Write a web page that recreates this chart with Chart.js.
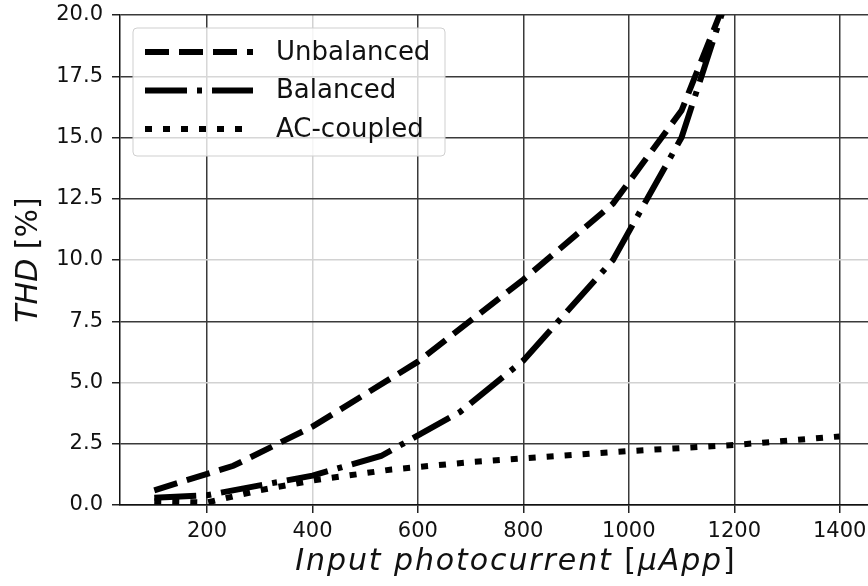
<!DOCTYPE html>
<html>
<head>
<meta charset="utf-8">
<script src="https://cdn.jsdelivr.net/npm/chart.js@4.4.0/dist/chart.umd.min.js"></script>
<style>
  html, body { margin: 0; padding: 0; background: #fff; overflow: hidden; }
  #wrap { width: 868px; height: 586px; overflow: hidden; }
  #thd { display: block; }
</style>
</head>
<body>
<div id="wrap"><canvas id="thd" width="900" height="586"></canvas></div>
<script>
// THD vs input photocurrent for the three front-end variants
const unbalancedX = [100, 250, 400, 600, 800, 970, 1100, 1200];
const unbalancedY = [0.6, 1.6, 3.2, 5.85, 9.2, 12.3, 16.1, 21.5];

const balancedX = [100, 200, 300, 400, 530, 680, 800, 970, 1100, 1200];
const balancedY = [0.3, 0.4, 0.8, 1.2, 2.0, 3.8, 5.9, 10.0, 15.0, 21.6];

const acX = [100, 200, 300, 400, 550, 700, 1000, 1200, 1400];
const acY = [0.15, 0.1, 0.6, 1.0, 1.45, 1.75, 2.2, 2.45, 2.8];

const seriesLabels = ['Unbalanced', 'Balanced', 'AC-coupled'];
const xTicks = [200, 400, 600, 800, 1000, 1200, 1400];

const FONT = "'DejaVu Sans', sans-serif";
const LINE_W = 6;
const dashes = [[24, 10], [42, 10, 5, 10], [7, 11]];

function pts(xs, ys) {
  return xs.map((x, i) => ({ x: x, y: ys[i] }));
}

// draws a run of text pieces, some italic, centred on x
function drawParts(ctx, parts, x, y, size, spacing) {
  ctx.letterSpacing = spacing + 'px';
  const fontOf = p => (p.it ? 'italic ' : '') + size + 'px ' + FONT;
  let total = 0;
  parts.forEach(p => { ctx.font = fontOf(p); total += ctx.measureText(p.t).width; });
  let cx = x - total / 2;
  parts.forEach(p => {
    ctx.font = fontOf(p);
    ctx.fillText(p.t, cx, y);
    cx += ctx.measureText(p.t).width;
  });
  ctx.letterSpacing = '0px';
}

const extras = {
  id: 'extras',
  afterDraw(chart) {
    const ctx = chart.ctx;
    const a = chart.chartArea;
    ctx.save();
    ctx.fillStyle = '#111';
    ctx.textAlign = 'left';
    ctx.textBaseline = 'alphabetic';

    // x axis title
    drawParts(ctx, [
      { t: 'Input photocurrent ', it: true },
      { t: '[', it: false },
      { t: '\u03bcApp', it: true },
      { t: ']', it: false }
    ], (a.left + a.right) / 2 + 19, 570, 30, 1.9);

    // y axis title
    ctx.save();
    ctx.translate(37, (a.top + a.bottom) / 2);
    ctx.rotate(-Math.PI / 2);
    drawParts(ctx, [
      { t: 'THD', it: true },
      { t: ' [%]', it: false }
    ], 0, 0, 30, 0);
    ctx.restore();

    // legend box
    const bx = a.left + 13, by = a.top + 13, bw = 312, bh = 128;
    ctx.beginPath();
    ctx.roundRect(bx, by, bw, bh, 4);
    ctx.fillStyle = 'rgba(255,255,255,0.8)';
    ctx.fill();
    ctx.strokeStyle = '#cfcfcf';
    ctx.lineWidth = 1;
    ctx.stroke();

    chart.data.datasets.forEach((ds, i) => {
      const ry = by + 24 + i * 38.5;
      ctx.beginPath();
      ctx.setLineDash(ds.borderDash);
      ctx.lineWidth = ds.borderWidth;
      ctx.strokeStyle = ds.borderColor;
      ctx.lineCap = 'butt';
      ctx.moveTo(bx + 12, ry);
      ctx.lineTo(bx + 120, ry);
      ctx.stroke();
      ctx.setLineDash([]);
      ctx.fillStyle = '#111';
      ctx.font = '26px ' + FONT;
      ctx.textBaseline = 'middle';
      ctx.fillText(ds.label, bx + 143, ry + 1);
    });
    ctx.restore();
  }
};

const lightX = [400];
const lightY = [5, 10];

new Chart(document.getElementById('thd'), {
  type: 'line',
  data: {
    datasets: [
      { label: seriesLabels[0], data: pts(unbalancedX, unbalancedY) },
      { label: seriesLabels[1], data: pts(balancedX, balancedY) },
      { label: seriesLabels[2], data: pts(acX, acY) }
    ].map((d, i) => Object.assign(d, {
      borderColor: '#000',
      borderWidth: LINE_W,
      borderDash: dashes[i],
      borderCapStyle: 'butt',
      pointRadius: 0,
      tension: 0,
      fill: false
    }))
  },
  options: {
    responsive: false,
    animation: false,
    devicePixelRatio: 1,
    layout: { padding: { top: 15, right: 26, left: 0, bottom: 0 } },
    plugins: { legend: { display: false }, tooltip: { enabled: false } },
    scales: {
      x: {
        type: 'linear',
        min: 35,
        max: 1465,
        afterBuildTicks: s => { s.ticks = xTicks.map(v => ({ value: v })); },
        ticks: {
          includeBounds: false,
          maxRotation: 0,
          padding: 6,
          color: '#111',
          font: { family: FONT, size: 21 },
          callback: v => String(v)
        },
        grid: {
          color: c => (c.tick && lightX.includes(c.tick.value)) ? '#d2d2d2' : '#3a3a3a',
          lineWidth: 1.5,
          tickLength: 8,
          tickColor: '#222'
        },
        border: { color: '#111', width: 1.5 },
        afterFit: s => { s.height = 81; s.paddingLeft = 0; s.paddingRight = 0; }
      },
      y: {
        min: 0,
        max: 20,
        ticks: {
          stepSize: 2.5,
          padding: 9,
          color: '#111',
          font: { family: FONT, size: 21 },
          callback: v => v.toFixed(1)
        },
        grid: {
          color: c => (c.tick && lightY.includes(c.tick.value)) ? '#d2d2d2' : '#3a3a3a',
          lineWidth: 1.5,
          tickLength: 8,
          tickColor: '#222'
        },
        border: { color: '#111', width: 1.5 },
        afterFit: s => { s.width = 120; s.paddingTop = 0; s.paddingBottom = 0; }
      }
    }
  },
  plugins: [extras]
});
</script>
</body>
</html>
